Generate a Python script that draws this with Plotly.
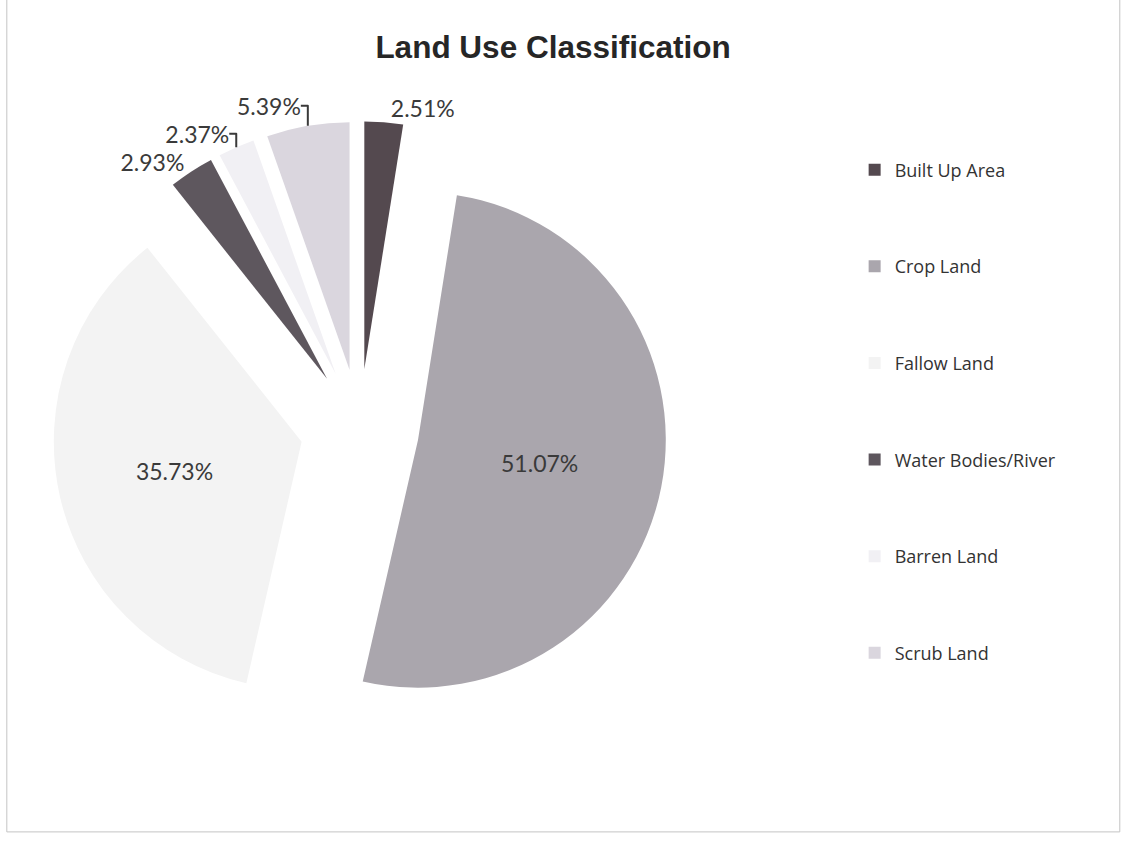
import plotly.graph_objects as go

categories = ["Built Up Area", "Crop Land", "Fallow Land", "Water Bodies/River", "Barren Land", "Scrub Land"]
values = [2.51, 51.07, 35.73, 2.93, 2.37, 5.39]
colors = ["#54494f", "#aaa6ad", "#f3f3f3", "#5e575e", "#f1f0f4", "#dad6de"]
text_positions = ["outside", "inside", "inside", "outside", "outside", "outside"]

# pad legend labels with blank lines so entries are spaced like the reference
legend_labels = [c + "<br> <br> <br> " for c in categories]

fig = go.Figure(go.Pie(
    labels=legend_labels,
    values=values,
    sort=False,
    direction="clockwise",
    rotation=0,
    pull=[0.24] * len(values),
    marker=dict(colors=colors, line=dict(width=0)),
    texttemplate="%{value:.2f}%",
    textposition=text_positions,
    insidetextorientation="horizontal",
    textfont=dict(family="Lato, Open Sans, sans-serif", size=23, color="#3a3a3a"),
    domain=dict(x=[0.046, 0.586], y=[0.125, 0.857]),
    hovertemplate="%{label}: %{value:.2f}%<extra></extra>",
))

fig.update_layout(
    width=1138, height=842,
    margin=dict(l=0, r=0, t=0, b=0, autoexpand=False),
    paper_bgcolor="white",
    plot_bgcolor="white",
    title=dict(text="<b>Land Use Classification</b>", x=0.486, xanchor="center",
               y=0.944, yanchor="middle",
               font=dict(family="Liberation Sans, Arial, sans-serif", size=31.5, color="#262626")),
    legend=dict(x=0.751, y=0.820, xanchor="left", yanchor="top",
                font=dict(family="Open Sans, sans-serif", size=18, color="#333333"),
                itemwidth=30, valign="top"),
    shapes=[dict(type="rect", xref="paper", yref="paper", x0=0.006, x1=0.984, y0=0.012, y1=1.01,
                 line=dict(color="#c4c4c4", width=1))],
)

fig.write_html("out.html")
